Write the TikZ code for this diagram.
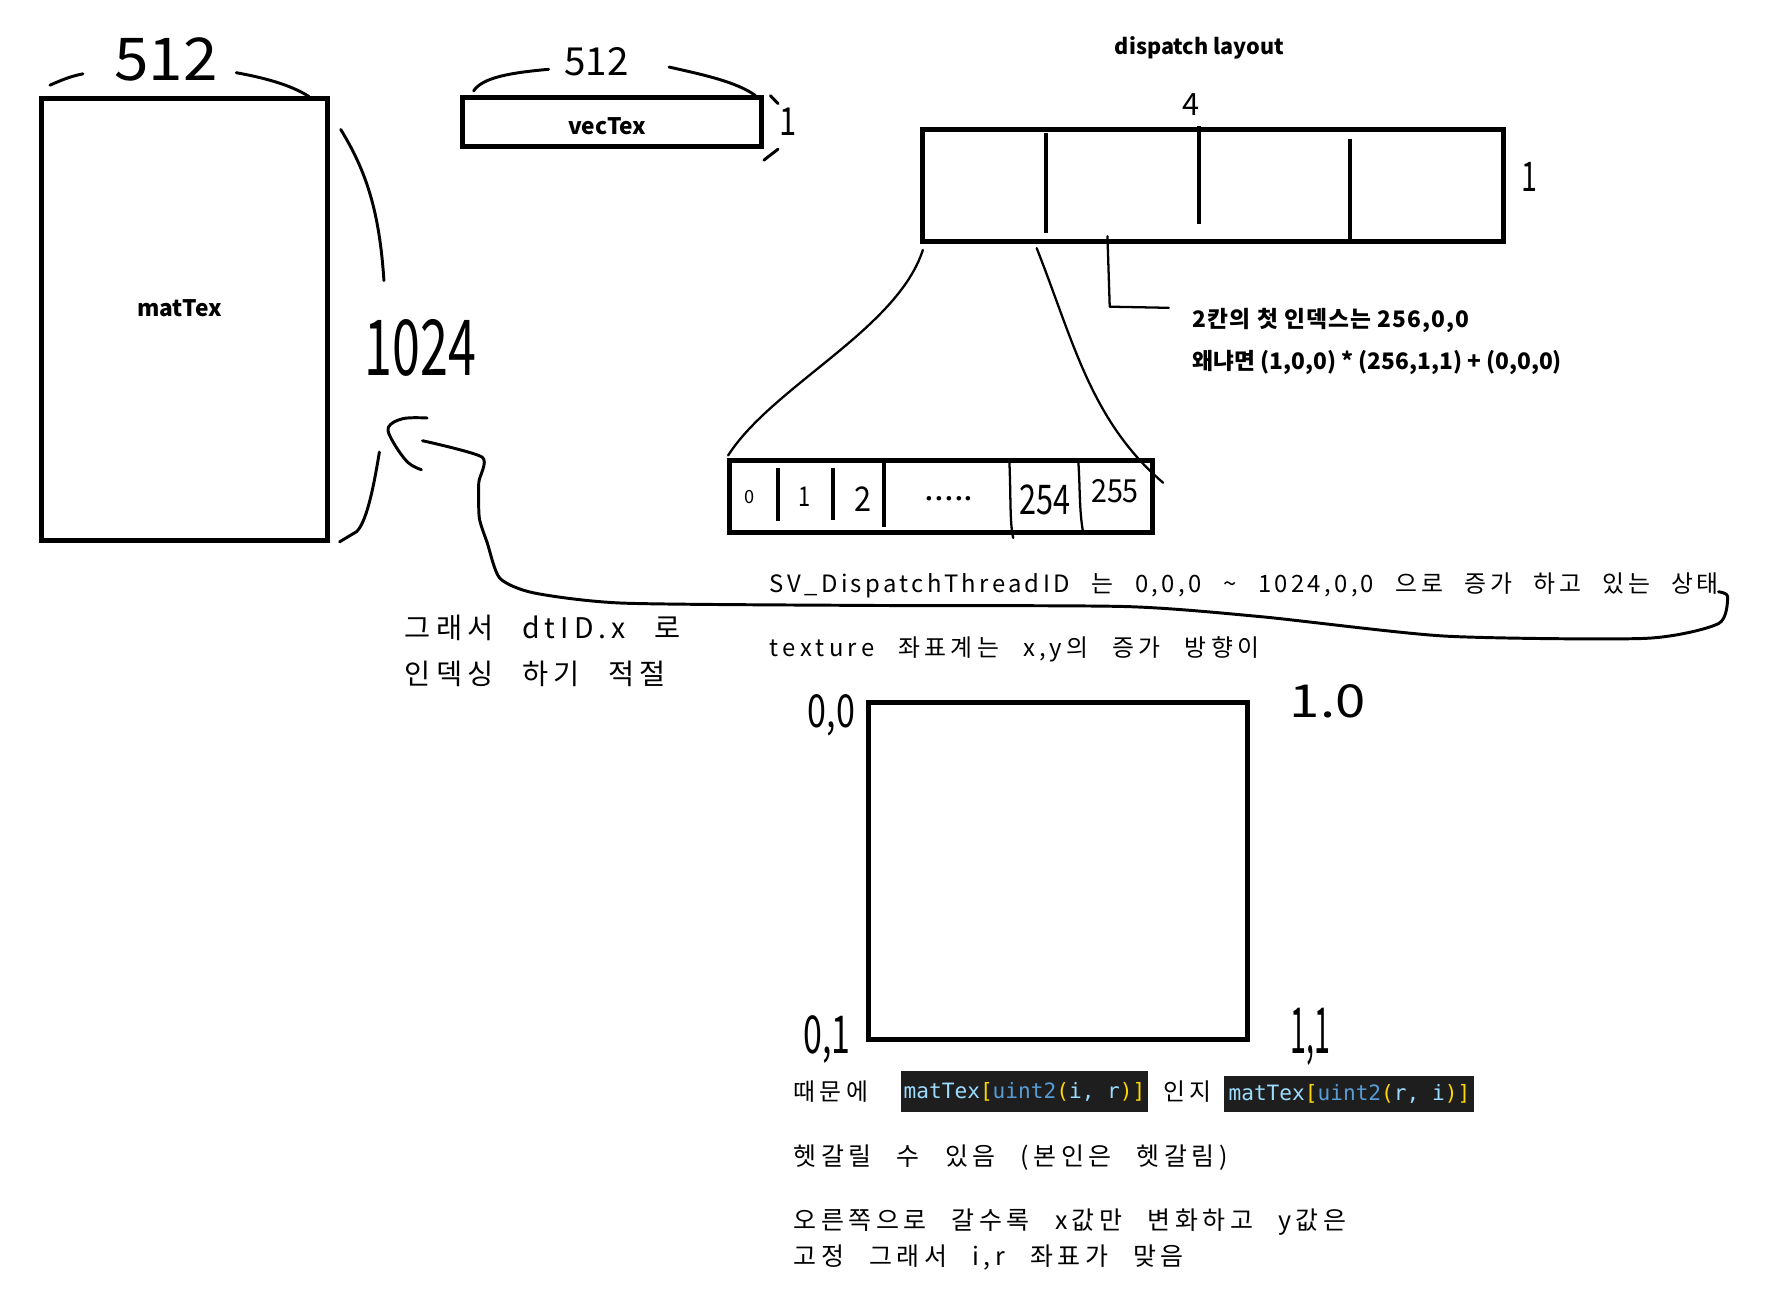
\documentclass[tikz,border=0pt]{standalone}
\usepackage{fontspec}
\usepackage{graphicx}
\setmainfont{Noto Sans CJK KR}
\newfontfamily\labelfont{Noto Sans CJK KR}
\newfontfamily\labelwide{Noto Sans CJK KR}[LetterSpace=5]
\newfontfamily\memofont{Noto Sans CJK KR}[LetterSpace=18,WordSpace=2.5]
\newfontfamily\memotight{Noto Sans CJK KR}[LetterSpace=14,WordSpace=2.5]
\newfontfamily\codefont{DejaVu Sans Mono}

\definecolor{codebg}{HTML}{1E1E1E}
\definecolor{codevar}{HTML}{9CDCFE}
\definecolor{codetype}{HTML}{569CD6}
\definecolor{codebrk}{HTML}{FFD700}

% hand written numbers: size, horizontal squeeze, text
\newcommand{\hand}[3]{\scalebox{#2}[1]{\fontsize{#1}{#1}\selectfont #3}}
\newcommand{\codeline}[2]{{\color{codevar}matTex}{\color{codebrk}[}{\color{codetype}uint2}{\color{codebrk}(}{\color{codevar}#1, #2}{\color{codebrk})]}}

\tikzset{
  box/.style={line width=4.4pt},
  cellbar/.style={line width=3.5pt},
  pen/.style={line width=2.6pt, line cap=round, line join=round},
  thinpen/.style={line width=2pt, line cap=round, line join=round},
  label/.style={inner sep=0pt, font=\labelfont\bfseries\fontsize{20}{20}\selectfont},
  memo/.style={anchor=west, inner sep=0pt, font=\memofont\fontsize{21}{21}\selectfont},
  lowmemo/.style={anchor=west, inner sep=0pt, font=\memofont\fontsize{22}{22}\selectfont},
  bigmemo/.style={anchor=west, inner sep=0pt, font=\memofont\fontsize{25}{25}\selectfont},
  hand/.style={inner sep=0pt},
  code/.style={fill=codebg, inner sep=0pt, font=\codefont\fontsize{18.6}{18.6}\selectfont}
}

\begin{document}
\begin{tikzpicture}[x=1pt,y=-1pt]
\useasboundingbox[fill=white] (0,0) rectangle (1568,1144);

% matTex
\draw[box] (36.8,86.5) rectangle (288,476);
\node[label] (mattex) at (158,271) {matTex};
\node[hand] (matw) at (146,52) {\hand{52}{1.05}{512}};
\draw[pen] (44,75) .. controls (55,70) and (63,67) .. (73,65);
\draw[pen] (208,64) .. controls (230,68) and (255,74) .. (272,85);
\node[hand] (math) at (370,306) {\hand{68}{0.65}{1024}};
\draw[pen] (300,114) .. controls (322,150) and (334,185) .. (338,247);
\draw[pen] (334,398) .. controls (328,435) and (322,460) .. (314,468) -- (299,477);

% vecTex
\draw[box] (407.4,85.5) rectangle (670.6,129.4);
\node[label] (vectex) at (534.6,110.7) {vecTex};
\node[hand] (vecw) at (525,54) {\hand{34}{1}{512}};
\draw[pen] (417,80) .. controls (425,68) and (450,64) .. (483,61);
\draw[pen] (589,59) .. controls (620,66) and (648,72) .. (665,84);
\node[hand] (vech) at (693.5,107) {\hand{34}{0.8}{1}};
\draw[pen] (678.3,84.3) -- (685,91.2);
\draw[pen] (685,131.3) -- (672.5,141);

% dispatch layout
\node[label, font=\labelfont\bfseries\fontsize{19}{19}\selectfont] (dtitle) at (1056,42) {dispatch layout};
\node[hand] (dw) at (1048.5,92) {\hand{27}{1}{4}};
\node[hand] (dh) at (1346.5,156) {\hand{36}{0.7}{1}};
\draw[box] (812.5,114) rectangle (1323.5,212.5);
\draw[cellbar] (921,117) -- (921,205);
\draw[cellbar] (1055.3,111) -- (1055.3,197);
\draw[cellbar] (1188.6,122.6) -- (1188.6,211);

\node[label, anchor=west, font=\labelwide\bfseries\fontsize{20}{20}\selectfont] (twocell) at (1050,282) {2칸의 첫 인덱스는 256,0,0};
\node[label, anchor=west] (because) at (1050,319) {왜냐면 (1,0,0) * (256,1,1) + (0,0,0)};
\draw[thinpen] (975,208) -- (977,270) -- (1029,271);

% threads of one group
\draw[thinpen] (812.5,220) .. controls (790,290) and (680,340) .. (641,401);
\draw[thinpen] (912.7,218.5) .. controls (945,300) and (960,370) .. (1024,425);
\draw[box] (642,405) rectangle (1015,469);
\draw[cellbar] (685.3,412) -- (685.3,459);
\draw[cellbar] (733.7,412) -- (733.7,457.6);
\draw[cellbar] (778.6,407.7) -- (778.6,463.7);
\draw[thinpen] (888.7,407) .. controls (890,440) and (889,460) .. (892,473.6);
\draw[thinpen] (949.4,407) .. controls (951,430) and (950,450) .. (953.8,470);
\node[hand] (t0) at (660,438) {\hand{16}{1}{0}};
\node[hand] (t1) at (708,437) {\hand{24}{0.8}{1}};
\node[hand] (t2) at (759.5,439) {\hand{30}{0.9}{2}};
\node[hand] (tdots) at (835.7,439) {\hand{28}{1.1}{.....}};
\node[hand] (t254) at (920,440) {\hand{36}{0.75}{254}};
\node[hand] (t255) at (981.6,432) {\hand{28}{0.9}{255}};

% arrow back to matTex
\draw[pen] plot[smooth, tension=0.6] coordinates {(376,368) (355,368.5) (342,376) (346,389) (359,407) (371,413.5)};
\draw[pen] plot[smooth, tension=0.4] coordinates {(372,388) (424.5,402.5) (421.5,425) (422,456) (429,478) (440,509) (470,522) (549,531) (760,533) (991,534) (1111,543) (1272,560) (1449,562) (1513,549) (1521,525) (1513,521)};

\node[memo, font=\memotight\fontsize{21}{21}\selectfont] (svline) at (677.7,515) {SV\_DispatchThreadID 는 0,0,0 \textasciitilde{} 1024,0,0 으로 증가 하고 있는 상태};
\node[memo] (texline) at (677.7,571.5) {texture 좌표계는 x,y의 증가 방향이};
\node[bigmemo] (so1) at (356.3,553) {그래서 dtID.x 로};
\node[bigmemo] (so2) at (356.3,593.6) {인덱싱 하기 적절};

% texture coordinates
\draw[box] (765,618.5) rectangle (1098.3,914.8);
\node[hand] (uv00) at (732,630) {\hand{40}{0.75}{0,0}};
\node[hand] (uv10) at (1169,617) {\hand{40}{1.2}{1.0}};
\node[hand] (uv01) at (728,915) {\hand{46}{0.65}{0,1}};
\node[hand] (uv11) at (1154,913) {\hand{56}{0.45}{1,1}};

\node[memo] (because2) at (698.5,961) {때문에};
\node[code, minimum width=217.4pt, minimum height=35.5pt] (code1) at (902,961) {\codeline{i}{r}};
\node[memo] (orr) at (1024,961) {인지};
\node[code, minimum width=220pt, minimum height=31.3pt] (code2) at (1188,963) {\codeline{r}{i}};
\node[lowmemo] (confuse) at (698.5,1019.5) {헷갈릴 수 있음 (본인은 헷갈림)};
\node[lowmemo] (right1) at (698.5,1075.5) {오른쪽으로 갈수록 x값만 변화하고 y값은};
\node[lowmemo] (right2) at (698.5,1107) {고정 그래서 i,r 좌표가 맞음};
\end{tikzpicture}
\end{document}
